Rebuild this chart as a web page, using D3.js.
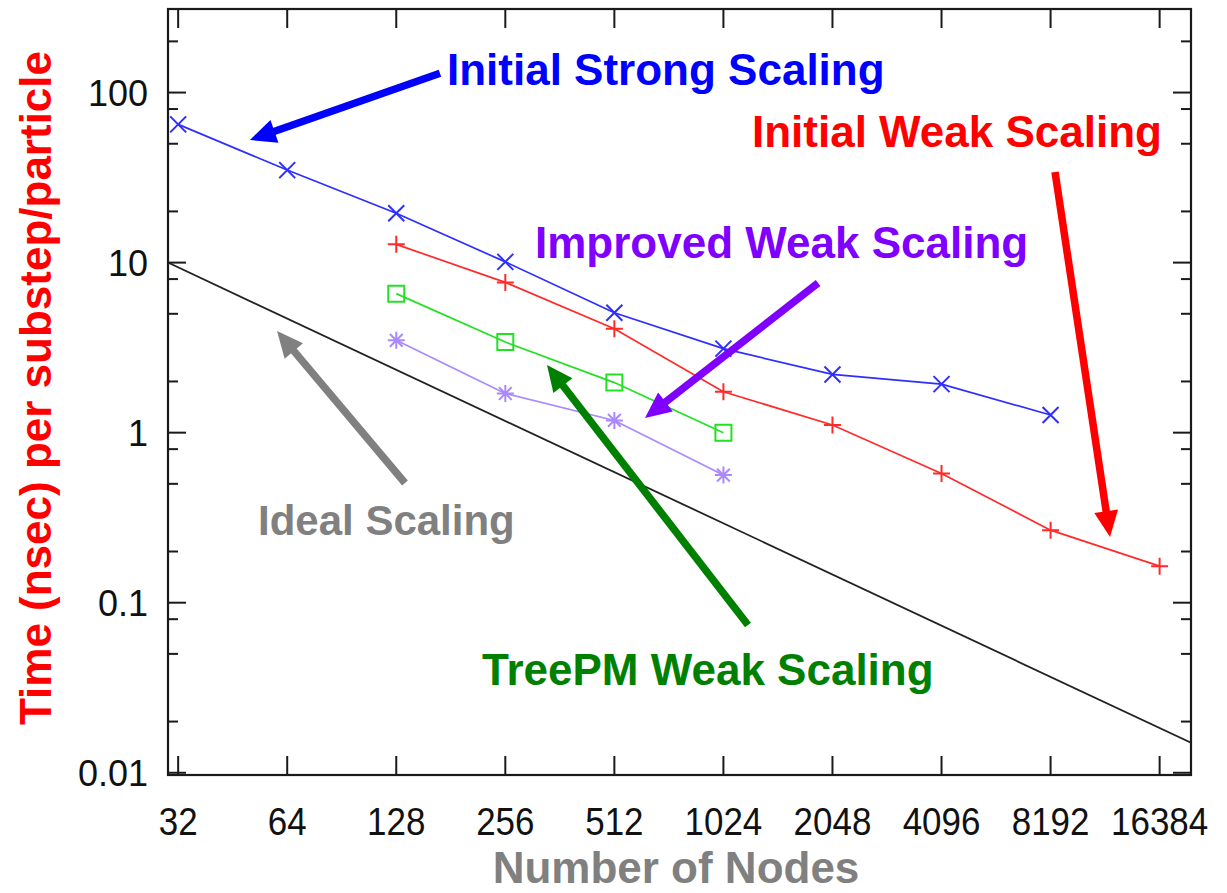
<!DOCTYPE html>
<html>
<head>
<meta charset="utf-8">
<script src="https://cdn.jsdelivr.net/npm/d3@7/dist/d3.min.js"></script>
<style>
  html, body { margin: 0; padding: 0; background: #fff; }
  svg { display: block; }
  text { font-family: "Liberation Sans", Arial, Helvetica, sans-serif; }
</style>
</head>
<body>
<svg id="chart" width="1227" height="893"></svg>
<script>
// Node counts and time per substep per particle (nsec)
const nodeTicks = [32, 64, 128, 256, 512, 1024, 2048, 4096, 8192, 16384];
const timeTicks = [0.01, 0.1, 1, 10, 100];
const timeTickLabels = ["0.01", "0.1", "1", "10", "100"];

const strongNodes = [32, 64, 128, 256, 512, 1024, 2048, 4096, 8192];
const strongTime  = [65, 35, 19.5, 10.1, 5.07, 3.12, 2.2, 1.93, 1.27];

const weakNodes = [128, 256, 512, 1024, 2048, 4096, 8192, 16384];
const weakTime  = [12.8, 7.65, 4.08, 1.74, 1.11, 0.576, 0.267, 0.164];

const treepmNodes = [128, 256, 512, 1024];
const treepmTime  = [6.57, 3.41, 1.97, 1.0];

const improvedNodes = [128, 256, 512, 1024];
const improvedTime  = [3.49, 1.70, 1.18, 0.563];

// ideal scaling reference line, end points
const idealNodes = [30, 20000];
const idealTime  = [10, 0.015];

const svg = d3.select("#chart");

const frame = { left: 168, right: 1191, top: 9, bottom: 775 };

const x = d3.scaleLog().base(2).domain([30, 20000]).range([frame.left, frame.right]);
const y = d3.scaleLog().domain([0.0097, 310]).range([frame.bottom, frame.top]);

const plot = svg.append("g");

// clip for the data area
svg.append("defs").append("clipPath").attr("id", "plotClip")
  .append("rect")
  .attr("x", frame.left).attr("y", frame.top)
  .attr("width", frame.right - frame.left).attr("height", frame.bottom - frame.top);

// ---- axes (ticks pointing inward on all four sides) ----
const axisColor = "#1a1a1a";
const majorLen = 18, minorLen = 10, xTickLen = 19;

const minorTicks = [];
[0.01, 0.1, 1, 10, 100].forEach(d => [2, 5, 8].forEach(m => {
  const v = d * m;
  if (v < 310) minorTicks.push(v);
}));

const ticks = svg.append("g").attr("stroke", axisColor).attr("stroke-width", 2);

// left & right y ticks
timeTicks.forEach(v => {
  ticks.append("line").attr("x1", frame.left).attr("x2", frame.left + majorLen).attr("y1", y(v)).attr("y2", y(v));
  ticks.append("line").attr("x1", frame.right).attr("x2", frame.right - majorLen).attr("y1", y(v)).attr("y2", y(v));
});
minorTicks.forEach(v => {
  ticks.append("line").attr("x1", frame.left).attr("x2", frame.left + minorLen).attr("y1", y(v)).attr("y2", y(v));
  ticks.append("line").attr("x1", frame.right).attr("x2", frame.right - minorLen).attr("y1", y(v)).attr("y2", y(v));
});
// bottom & top x ticks
nodeTicks.forEach(v => {
  ticks.append("line").attr("x1", x(v)).attr("x2", x(v)).attr("y1", frame.bottom).attr("y2", frame.bottom - xTickLen);
  ticks.append("line").attr("x1", x(v)).attr("x2", x(v)).attr("y1", frame.top).attr("y2", frame.top + xTickLen);
});

// frame
svg.append("rect")
  .attr("x", frame.left).attr("y", frame.top)
  .attr("width", frame.right - frame.left).attr("height", frame.bottom - frame.top)
  .attr("fill", "none").attr("stroke", axisColor).attr("stroke-width", 2.2);

// tick labels (slightly condensed digits)
svg.append("g").selectAll("text").data(nodeTicks).join("text")
  .attr("transform", d => `translate(${x(d)},835) scale(0.92,1)`)
  .attr("text-anchor", "middle")
  .attr("font-size", 38).attr("fill", "#111")
  .text(d => d);

svg.append("g").selectAll("text").data(timeTicks).join("text")
  .attr("x", 148).attr("y", d => y(d))
  .attr("dy", "0.36em")
  .attr("text-anchor", "end")
  .attr("font-size", 36).attr("fill", "#111")
  .text((d, i) => timeTickLabels[i]);

// axis titles
svg.append("text")
  .attr("x", 676).attr("y", 883)
  .attr("text-anchor", "middle")
  .attr("font-size", 44).attr("font-weight", "bold").attr("fill", "#808080")
  .text("Number of Nodes");

svg.append("text")
  .attr("transform", "translate(51,388) rotate(-90)")
  .attr("text-anchor", "middle")
  .attr("font-size", 44).attr("font-weight", "bold").attr("fill", "#ff0000")
  .text("Time (nsec) per substep/particle");

// ---- data ----
const data = plot.append("g").attr("clip-path", "url(#plotClip)");
const line = d3.line().x(d => x(d[0])).y(d => y(d[1]));
const zip = (a, b) => a.map((v, i) => [v, b[i]]);

// ideal scaling
data.append("path")
  .datum(zip(idealNodes, idealTime))
  .attr("d", line).attr("fill", "none")
  .attr("stroke", "#222").attr("stroke-width", 1.8);

const series = [
  { nodes: strongNodes,   time: strongTime,   color: "#2e2eff", marker: "x" },
  { nodes: weakNodes,     time: weakTime,     color: "#ff2a2a", marker: "plus" },
  { nodes: treepmNodes,   time: treepmTime,   color: "#22e022", marker: "square" },
  { nodes: improvedNodes, time: improvedTime, color: "#aa88ff", marker: "star" }
];

function markerPath(type, s) {
  switch (type) {
    case "x": return `M${-s},${-s}L${s},${s}M${-s},${s}L${s},${-s}`;
    case "plus": return `M${-s},0L${s},0M0,${-s}L0,${s}`;
    case "square": return `M${-s},${-s}H${s}V${s}H${-s}Z`;
    case "star": return `M${-s},0L${s},0M0,${-s}L0,${s}M${-s*0.75},${-s*0.75}L${s*0.75},${s*0.75}M${-s*0.75},${s*0.75}L${s*0.75},${-s*0.75}`;
  }
}
const markerSize = { x: 8, plus: 8.5, square: 8, star: 8.5 };

series.forEach(sr => {
  const pts = zip(sr.nodes, sr.time);
  data.append("path").datum(pts)
    .attr("d", line).attr("fill", "none")
    .attr("stroke", sr.color).attr("stroke-width", 1.7);
  data.append("g").selectAll("path").data(pts).join("path")
    .attr("transform", d => `translate(${x(d[0])},${y(d[1])})`)
    .attr("d", markerPath(sr.marker, markerSize[sr.marker]))
    .attr("fill", "none").attr("stroke", sr.color).attr("stroke-width", 2);
});

// ---- annotations: arrows (data coordinates) and labels ----
const arrows = [
  { from: [169, 130],   to: [50.5, 52.6],  color: "#0000ff" },
  { from: [8427, 34.1], to: [11955, 0.2433], color: "#ff0000" },
  { from: [1869, 7.59], to: [622, 1.22],   color: "#8000ff" },
  { from: [1197, 0.0739], to: [333.7, 2.50], color: "#008000" },
  { from: [135.3, 0.506], to: [60, 3.96],  color: "#808080" }
];

const ann = svg.append("g");
arrows.forEach(a => {
  const x0 = x(a.from[0]), y0 = y(a.from[1]);
  const x1 = x(a.to[0]), y1 = y(a.to[1]);
  const ang = Math.atan2(y1 - y0, x1 - x0);
  const headLen = 26, headHalf = 12;
  const bx = x1 - headLen * Math.cos(ang), by = y1 - headLen * Math.sin(ang);
  ann.append("line")
    .attr("x1", x0).attr("y1", y0).attr("x2", bx + 2 * Math.cos(ang)).attr("y2", by + 2 * Math.sin(ang))
    .attr("stroke", a.color).attr("stroke-width", 7.5);
  const px = -Math.sin(ang), py = Math.cos(ang);
  ann.append("path")
    .attr("d", `M${x1},${y1}L${bx + headHalf * px},${by + headHalf * py}L${bx - headHalf * px},${by - headHalf * py}Z`)
    .attr("fill", a.color);
});

const labels = [
  { text: "Initial Strong Scaling", x: 447, y: 85,  color: "#0000ff", size: 44 },
  { text: "Initial Weak Scaling",   x: 752, y: 147, color: "#ff0000", size: 44 },
  { text: "Improved Weak Scaling",  x: 535, y: 258, color: "#8000ff", size: 44 },
  { text: "Ideal Scaling",          x: 258, y: 535, color: "#808080", size: 42 },
  { text: "TreePM Weak Scaling",    x: 482, y: 685, color: "#008000", size: 44 }
];
ann.selectAll("text.label").data(labels).join("text")
  .attr("class", "label")
  .attr("x", d => d.x).attr("y", d => d.y)
  .attr("font-size", d => d.size).attr("font-weight", "bold")
  .attr("fill", d => d.color)
  .text(d => d.text);
</script>
</body>
</html>
